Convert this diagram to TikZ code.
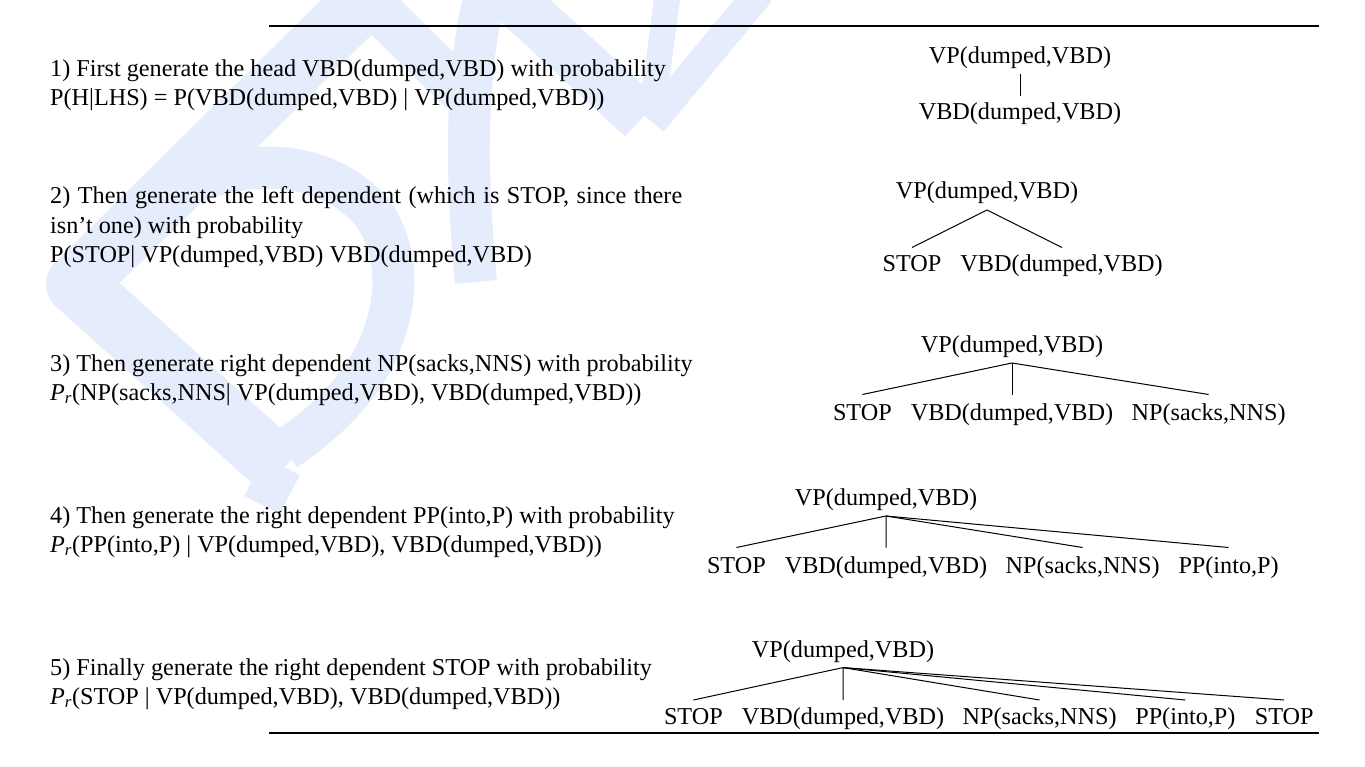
\documentclass[tikz,border=0pt]{standalone}
\usepackage{fontspec}
\setmainfont{Liberation Serif}
\definecolor{wmblue}{RGB}{229,236,251}
\newcommand\myfs{\fontsize{24.2}{29}\selectfont}
\newcommand\Pright{{\itshape P}\textsubscript{\itshape r}}
\tikzset{
  lbl/.style={anchor=base, inner sep=0pt, font=\myfs},
  txt/.style={anchor=base west, inner sep=0pt, font=\myfs},
  edge/.style={line width=1pt, black},
  hrule/.style={line width=2.5pt, black},
  wm/.style={draw=wmblue, line cap=butt, line join=round}
}
\begin{document}
\begin{tikzpicture}[x=1pt,y=-1pt]
\useasboundingbox (0,0) rectangle (1365,767);
% watermark
\begin{scope}
\draw[wm, line width=60pt] (372,-8) -- (76,284) -- (282,470);
\draw[wm, line width=40pt] (282,466) -- (262,505);
\draw[wm, line width=42pt] (88,272) .. controls (150,168) and (300,130) .. (372,212)
   .. controls (400,250) and (396,300) .. (385,330) .. controls (370,380) and (330,420) .. (285,450);
\draw[wm, line width=45pt] (360,-8) -- (462,92);
\draw[wm, line width=42pt] (486,-8) .. controls (462,80) and (468,200) .. (476,282);
\draw[wm, line width=50pt] (505,-8) -- (642,118);
\draw[wm, line width=30pt] (760,-8) -- (652,122);
\draw[wm, line width=26pt] (668,-8) -- (652,112);
\end{scope}
% rules
\draw[hrule] (269,26) -- (1319,26);
\draw[hrule] (269,733) -- (1319,733);
% left text
\node[txt] (t1a) at (50,76.5) {1) First generate the head VBD(dumped,VBD) with probability};
\node[txt] (t1b) at (50,106) {P(H|LHS) = P(VBD(dumped,VBD) | VP(dumped,VBD))};
\node[txt] (t2a) at (50,204) {\makebox[632pt][s]{2) Then generate the left dependent (which is STOP, since there}};
\node[txt] (t2b) at (50,233.5) {isn’t one) with probability};
\node[txt] (t2c) at (50,263) {P(STOP| VP(dumped,VBD) VBD(dumped,VBD)};
\node[txt] (t3a) at (50,371) {3) Then generate right dependent NP(sacks,NNS) with probability};
\node[txt] (t3b) at (50,400) {\Pright(NP(sacks,NNS| VP(dumped,VBD), VBD(dumped,VBD))};
\node[txt] (t4a) at (50,523) {4) Then generate the right dependent PP(into,P) with probability};
\node[txt] (t4b) at (50,552) {\Pright(PP(into,P) | VP(dumped,VBD), VBD(dumped,VBD))};
\node[txt] (t5a) at (50,675) {5) Finally generate the right dependent STOP with probability};
\node[txt] (t5b) at (50,704) {\Pright(STOP | VP(dumped,VBD), VBD(dumped,VBD))};
% tree 1
\node[lbl] (vp1) at (1020,64) {VP(dumped,VBD)};
\node[lbl] (vbd1) at (1020,120) {VBD(dumped,VBD)};
\coordinate (a1) at (1020,74);
\coordinate (e1) at (1020,96);
\draw[edge] (a1) -- (e1);
% tree 2
\node[lbl] (vp2) at (987,199) {VP(dumped,VBD)};
\node[lbl] (stop2) at (912,272) {STOP};
\node[lbl] (vbd2) at (1061.6,272) {VBD(dumped,VBD)};
\coordinate (a2) at (987,210);
\coordinate (e2s) at (912,247.5);
\coordinate (e2v) at (1062,247.5);
\draw[edge] (e2s) -- (a2) -- (e2v);
% tree 3
\node[lbl] (vp3) at (1012,352) {VP(dumped,VBD)};
\node[lbl] (stop3) at (862.4,420) {STOP};
\node[lbl] (vbd3) at (1012,420) {VBD(dumped,VBD)};
\node[lbl] (np3) at (1208.6,420) {NP(sacks,NNS)};
\coordinate (a3) at (1012,363);
\coordinate (e3s) at (862.4,394.5);
\coordinate (e3v) at (1012,394.5);
\coordinate (e3n) at (1208.6,394.5);
\draw[edge] (e3s) -- (a3) -- (e3n);
\draw[edge] (a3) -- (e3v);
% tree 4
\node[lbl] (vp4) at (886,505) {VP(dumped,VBD)};
\node[lbl] (stop4) at (736.4,573) {STOP};
\node[lbl] (vbd4) at (886,573) {VBD(dumped,VBD)};
\node[lbl] (np4) at (1082.6,573) {NP(sacks,NNS)};
\node[lbl] (pp4) at (1228.6,573) {PP(into,P)};
\coordinate (a4) at (886,516);
\coordinate (e4s) at (736.4,547.5);
\coordinate (e4v) at (886,547.5);
\coordinate (e4n) at (1082.6,547.5);
\coordinate (e4p) at (1228.6,547.5);
\draw[edge] (e4s) -- (a4) -- (e4v);
\draw[edge] (a4) -- (e4n);
\draw[edge] (a4) -- (e4p);
% tree 5
\node[lbl] (vp5) at (843,657) {VP(dumped,VBD)};
\node[lbl] (stop5) at (693.4,724) {STOP};
\node[lbl] (vbd5) at (843,724) {VBD(dumped,VBD)};
\node[lbl] (np5) at (1039.6,724) {NP(sacks,NNS)};
\node[lbl] (pp5) at (1185.4,724) {PP(into,P)};
\node[lbl] (stopr5) at (1284.2,724) {STOP};
\coordinate (a5) at (843,667.6);
\coordinate (e5s) at (693.4,700);
\coordinate (e5v) at (843,700);
\coordinate (e5n) at (1039.6,700);
\coordinate (e5p) at (1185.4,700);
\coordinate (e5r) at (1284.2,700);
\draw[edge] (e5s) -- (a5) -- (e5v);
\draw[edge] (a5) -- (e5n);
\draw[edge] (a5) -- (e5p);
\draw[edge] (a5) -- (e5r);
\end{tikzpicture}
\end{document}
